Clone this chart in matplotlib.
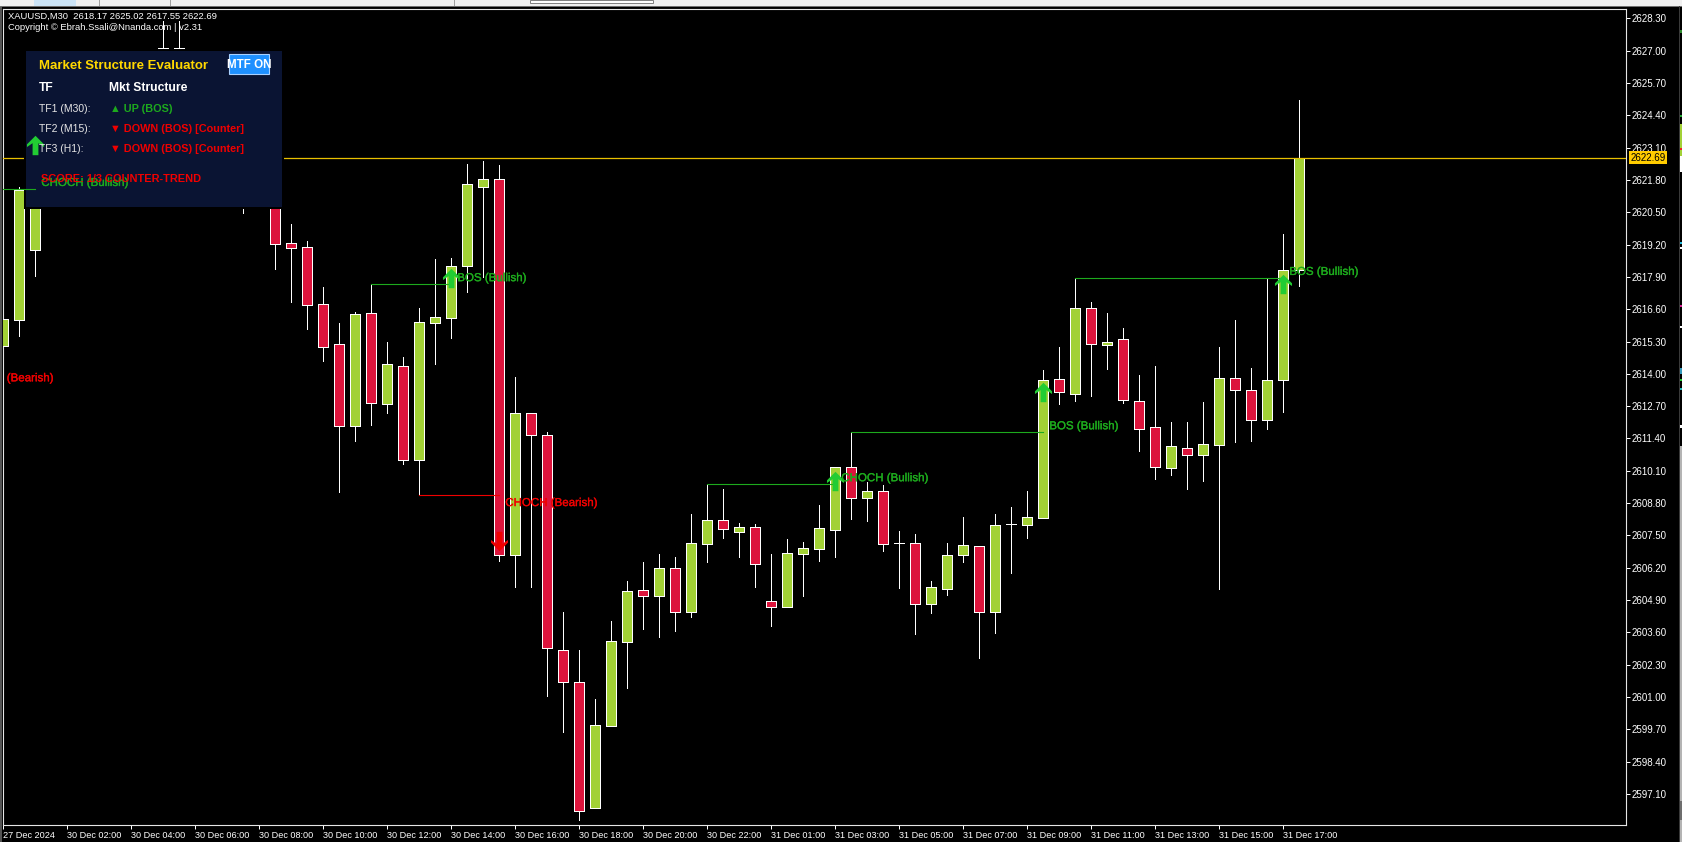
"""
XAUUSD M30 chart with the Market Structure Evaluator panel, drawn with matplotlib.
"""
import matplotlib
matplotlib.use("Agg")
import matplotlib.patheffects as pe
import matplotlib.pyplot as plt
import numpy as np
from matplotlib.patches import Rectangle
from matplotlib.path import Path
from matplotlib.transforms import Affine2D

W, H = 1682, 842
FONT = ["Liberation Sans", "DejaVu Sans"]

# bars 3-16 sit behind the panel, so their values are rough guesses
opens = [
    2615.13, 2616.18, 2618.97, 2622.40, 2623.10, 2623.90, 2623.40, 2624.50, 2625.20, 2625.90,
    2626.60, 2627.13, 2626.20, 2625.30, 2624.40, 2623.40, 2622.20, 2621.60, 2619.25, 2619.10,
    2616.81, 2615.20, 2611.91, 2616.44, 2612.80, 2614.30, 2610.52, 2616.03, 2616.26, 2618.33,
    2621.51, 2621.83, 2606.70, 2612.41, 2611.53, 2602.88, 2601.59, 2596.52, 2599.84, 2603.22,
    2605.29, 2605.05, 2606.18, 2604.43, 2607.17, 2608.11, 2607.62, 2607.83, 2604.85, 2604.61,
    2606.74, 2606.97, 2607.73, 2610.24, 2609.02, 2609.27, 2607.18, 2607.18, 2604.73, 2605.35,
    2606.70, 2607.06, 2604.40, 2607.95, 2607.93, 2608.19, 2613.78, 2613.20, 2616.64, 2615.17,
    2615.39, 2612.90, 2611.85, 2610.22, 2611.00, 2610.75, 2611.15, 2613.82, 2613.34, 2612.13,
    2613.74, 2618.17,
]
highs = [
    2616.60, 2621.52, 2622.81, 2623.50, 2624.30, 2624.20, 2624.90, 2625.60, 2626.20, 2626.90,
    2628.20, 2628.20, 2626.60, 2625.70, 2624.70, 2623.70, 2622.50, 2621.90, 2620.03, 2619.35,
    2617.50, 2616.05, 2616.48, 2617.60, 2615.28, 2614.68, 2616.65, 2618.62, 2618.66, 2622.44,
    2622.57, 2622.40, 2613.87, 2612.41, 2611.65, 2604.40, 2602.89, 2600.92, 2604.05, 2605.66,
    2606.43, 2606.75, 2606.63, 2608.36, 2609.56, 2609.35, 2608.00, 2607.96, 2606.75, 2607.35,
    2607.22, 2608.72, 2610.24, 2611.65, 2609.66, 2609.53, 2607.68, 2607.56, 2605.66, 2607.19,
    2608.24, 2607.06, 2608.36, 2608.64, 2609.29, 2614.16, 2615.08, 2617.82, 2616.89, 2616.45,
    2615.85, 2613.95, 2614.32, 2612.06, 2612.06, 2612.87, 2615.08, 2616.17, 2614.24, 2617.82,
    2619.63, 2625.02,
]
lows = [
    2614.60, 2615.54, 2617.95, 2622.00, 2622.80, 2623.10, 2623.20, 2624.20, 2625.00, 2625.70,
    2626.40, 2625.90, 2625.00, 2624.00, 2623.00, 2620.49, 2621.00, 2618.23, 2616.89, 2615.81,
    2614.53, 2609.25, 2611.31, 2611.94, 2612.44, 2610.37, 2609.13, 2614.41, 2615.46, 2617.31,
    2617.91, 2606.48, 2605.44, 2605.44, 2601.05, 2599.60, 2596.06, 2596.52, 2599.84, 2601.37,
    2603.75, 2603.42, 2603.66, 2604.23, 2606.44, 2607.41, 2606.64, 2605.44, 2603.87, 2604.61,
    2605.07, 2606.48, 2606.64, 2608.17, 2608.09, 2606.88, 2605.39, 2603.54, 2604.39, 2605.11,
    2606.44, 2602.58, 2603.58, 2606.00, 2607.41, 2608.19, 2612.80, 2612.92, 2613.12, 2614.21,
    2612.84, 2610.91, 2609.78, 2609.94, 2609.38, 2609.70, 2605.35, 2611.27, 2611.31, 2611.79,
    2612.48, 2617.55,
]
closes = [
    2616.20, 2621.40, 2622.40, 2623.10, 2623.90, 2623.40, 2624.50, 2625.20, 2625.90, 2626.60,
    2627.13, 2626.20, 2625.30, 2624.40, 2623.40, 2622.20, 2621.60, 2619.24, 2619.08, 2616.78,
    2615.09, 2611.91, 2616.41, 2612.84, 2614.38, 2610.53, 2616.07, 2616.28, 2618.33, 2621.63,
    2621.83, 2606.70, 2612.41, 2611.53, 2602.96, 2601.61, 2596.40, 2599.86, 2603.24, 2605.25,
    2605.05, 2606.18, 2604.43, 2607.18, 2608.11, 2607.77, 2607.83, 2606.34, 2604.61, 2606.78,
    2606.98, 2607.79, 2610.24, 2609.02, 2609.27, 2607.17, 2607.18, 2604.73, 2605.41, 2606.70,
    2607.10, 2604.40, 2607.91, 2607.95, 2608.23, 2613.74, 2613.26, 2616.64, 2615.19, 2615.28,
    2612.94, 2611.79, 2610.24, 2611.08, 2610.75, 2611.17, 2613.82, 2613.34, 2612.13, 2613.74,
    2618.17, 2622.69,
]

time_labels = [
    "27 Dec 2024", "30 Dec 02:00", "30 Dec 04:00", "30 Dec 06:00", "30 Dec 08:00", "30 Dec 10:00",
    "30 Dec 12:00", "30 Dec 14:00", "30 Dec 16:00", "30 Dec 18:00", "30 Dec 20:00", "30 Dec 22:00",
    "31 Dec 01:00", "31 Dec 03:00", "31 Dec 05:00", "31 Dec 07:00", "31 Dec 09:00", "31 Dec 11:00",
    "31 Dec 13:00", "31 Dec 15:00", "31 Dec 17:00",
]
price_ticks = [2597.10 + 1.30 * i for i in range(25)]

# structure lines: start bar, end bar, level, direction
line_starts = [-2, 23, 26, 44, 53, 67]
line_ends = [2, 28, 31, 52, 65, 80]
line_levels = [2621.43, 2617.60, 2609.13, 2609.56, 2611.65, 2617.85]
line_dirs = [1, 1, -1, 1, 1, 1]

arrow_bars = [2, 28, 31, 52, 65, 80]
arrow_levels = [2623.21, 2617.85, 2607.27, 2609.69, 2613.27, 2617.62]
arrow_dirs = [1, 1, -1, 1, 1, 1]

label_texts = ["CHOCH (Bearish)", "CHOCH (Bullish)", "BOS (Bullish)", "CHOCH (Bearish)",
               "CHOCH (Bullish)", "BOS (Bullish)", "BOS (Bullish)"]
label_bars = [-3, 2, 28, 31, 52, 65, 80]
label_levels = [2613.82, 2621.68, 2617.85, 2608.80, 2609.80, 2611.89, 2618.10]

UP_COLOR = "#A2D135"
DOWN_COLOR = "#DC143C"
GREEN = "#1DAA1D"
RED = "#F00000"
ARROW_GREEN = "#22CC33"
NAVY = "#0A1433"

plt.rcParams["font.family"] = FONT

fig = plt.figure(figsize=(W / 100, H / 100), dpi=100, facecolor="black")
ax = fig.add_axes([3 / W, (H - 825) / H, (1626 - 3) / W, (825 - 8.5) / H], facecolor="black")

# pixel coordinates of the picture, origin top left
px = Affine2D().scale(1, -1).translate(0, H)


def px_rect(x0, y0, x1, y1, color, zorder=5, **kw):
    r = Rectangle((x0, y0), x1 - x0, y1 - y0, transform=px, facecolor=color,
                  edgecolor=kw.pop("edgecolor", "none"), linewidth=kw.pop("linewidth", 0),
                  zorder=zorder, clip_on=False, **kw)
    ax.add_patch(r)
    return r


def px_text(x, y, s, color, size, weight="normal", zorder=9):
    return ax.text(x, y, s, transform=px, color=color, fontsize=size, fontweight=weight,
                   va="center", ha="left", zorder=zorder, clip_on=False)


# candles
bars = np.arange(len(opens))
o = np.array(opens)
c = np.array(closes)
ax.vlines(bars, lows, highs, colors="white", linewidth=0.72, zorder=2, antialiased=False)
body_colors = [UP_COLOR if cl >= op else DOWN_COLOR for op, cl in zip(o, c)]
ax.bar(bars, np.abs(c - o), bottom=np.minimum(o, c), width=0.63, color=body_colors,
       edgecolor="white", linewidth=0.55, zorder=3, antialiased=False)

ax.axhline(closes[-1], color="#E8C000", linewidth=0.9, zorder=4)

ax.set_xlim(-0.02, 101.42)
ax.set_ylim(2595.845, 2628.70)

# axes, MT5 style: prices on the right, labels start at the tick
ax.set_xticks(bars[::4][:len(time_labels)])
ax.set_xticklabels(time_labels, ha="left", fontsize=6.6)
ax.yaxis.tick_right()
ax.set_yticks(price_ticks)
ax.set_yticklabels([f"{p:.2f}" for p in price_ticks], fontsize=7)
ax.tick_params(axis="x", colors="white", length=3, width=0.72, pad=1)
ax.tick_params(axis="y", colors="white", length=3, width=0.72, pad=0.8)
for spine in ax.spines.values():
    spine.set_color("#E6E6E6")
    spine.set_linewidth(0.8)

ax.annotate(f"{closes[-1]:.2f}", xy=(1, closes[-1]), xycoords=ax.get_yaxis_transform(),
            xytext=(3.2, 0), textcoords="offset points", va="center", ha="left",
            fontsize=7, color="black", annotation_clip=False, zorder=12,
            bbox=dict(boxstyle="square,pad=0.16", fc="#FFCC00", ec="none"))

# panel with its black margin
px_rect(24, 49.3, 284, 209, "black", zorder=5)
px_rect(26, 51, 282, 206.7, NAVY, zorder=5)

for x0, x1, level, d in zip(line_starts, line_ends, line_levels, line_dirs):
    ax.plot([x0, x1], [level, level], color=GREEN if d > 0 else RED, linewidth=0.8, zorder=6)

arrow_up = Path([(0, 0.5), (0.44, 0.06), (0.44, -0.08), (0.15, 0.12), (0.15, -0.5),
                 (-0.15, -0.5), (-0.15, 0.12), (-0.44, -0.08), (-0.44, 0.06), (0, 0.5)])
arrow_down = Path(arrow_up.vertices * [1, -1])
for bar, level, d in zip(arrow_bars, arrow_levels, arrow_dirs):
    ax.scatter([bar], [level], marker=arrow_up if d > 0 else arrow_down, s=195,
               color=ARROW_GREEN if d > 0 else RED, linewidths=0, zorder=7)

# panel contents
px_text(39, 66, "Market Structure Evaluator", "#FFD700", 9.5, "bold")
px_text(39, 88, "TF", "white", 8.7, "bold")
px_text(109, 88, "Mkt Structure", "white", 8.7, "bold")
for y, name in zip([109, 129.3, 149.3], ["TF1 (M30):", "TF2 (M15):", "TF3 (H1):"]):
    px_text(39, y, name, "#E6E6E6", 7.5)
px_text(109.5, 109, "▲ UP (BOS)", GREEN, 7.8, "bold")
px_text(109.5, 129.3, "▼ DOWN (BOS) [Counter]", RED, 7.8, "bold")
px_text(109.5, 149.3, "▼ DOWN (BOS) [Counter]", RED, 7.8, "bold")
px_text(40.7, 179.3, "SCORE: 1/3 COUNTER-TREND", RED, 7.95, "bold", zorder=11)

button = px_rect(229, 54, 268.6, 73.7, "#1E90FF", zorder=8, edgecolor="#A8D0FF", linewidth=0.8)
button_text = ax.text(248.8, 64.6, "MTF ON", transform=px, color="white", fontsize=8.4,
                      fontweight="bold", ha="center", va="center", zorder=9)
button_text.set_clip_path(button)

# signal labels
for text, bar, level in zip(label_texts, label_bars, label_levels):
    ax.annotate(text, xy=(bar, level), xytext=(4.3, 0), textcoords="offset points",
                va="center", ha="left", fontsize=8.3, zorder=10, annotation_clip=False,
                clip_on=True, color=RED if "Bearish" in text else GREEN,
                path_effects=[pe.withStroke(linewidth=0.25,
                                            foreground=RED if "Bearish" in text else GREEN)])

px_text(7.5, 16.5, "XAUUSD,M30  2618.17 2625.02 2617.55 2622.69", "white", 6.72)
px_text(7.5, 27.5, "Copyright © Ebrah.Ssali@Nnanda.com | v2.31", "white", 6.72)

# window chrome around the chart
px_rect(0, 0, W, 5.7, "#F0F0F0", zorder=11)
px_rect(0, 5.7, W, 6.7, "#707070", zorder=11)
px_rect(34, 0, 76, 5.7, "#CCE4F7", zorder=12)
for x in [99, 170, 454]:
    px_rect(x, 0, x + 1, 5.7, "#A0A0A0", zorder=12)
px_rect(530, 0, 653, 2.5, "white", zorder=12, edgecolor="#808080", linewidth=0.7)
px_rect(0, 6.7, 1.6, H, "#555555", zorder=11)

px_rect(1679, 6, 1680.2, H, "#3A3A3A", zorder=11)
px_rect(1680.2, 446, W, H, "#B4B4B4", zorder=11)
px_rect(1680.2, 801, W, 820, "#6E6E6E", zorder=12)
strip_tops = [30, 115, 124, 148, 156, 242, 247, 305, 326, 368, 379, 388, 425]
strip_bottoms = [33, 117, 156, 150, 172, 244, 249, 307, 328, 374, 381, 390, 428]
strip_colors = ["#2E8B2E", "#22AA33", UP_COLOR, "#EE2222", "white", "#22BBDD", "white",
                "#DD2299", "white", "#3399BB", "#22CC33", "#22BBBB", "white"]
for y0, y1, col in zip(strip_tops, strip_bottoms, strip_colors):
    px_rect(1680.2, y0, W, y1, col, zorder=12)

fig.savefig("out.png", dpi=100, facecolor="black")
plt.close(fig)
